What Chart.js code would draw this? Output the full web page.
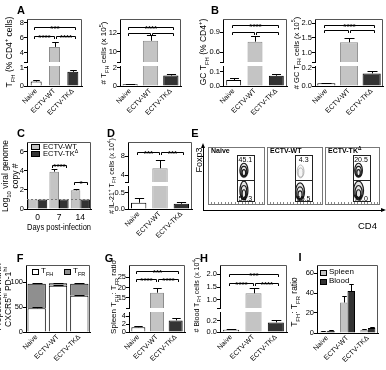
<!DOCTYPE html>
<html>
<head>
<meta charset="utf-8">
<script src="https://cdn.jsdelivr.net/npm/chart.js@4.4.0/dist/chart.umd.min.js"></script>
<style>
body { margin: 0; background: #fff; }
#fig { position: relative; width: 386px; height: 370px; overflow: hidden; background: #fff;
  font-family: "Liberation Sans", Arial, Helvetica, sans-serif; color: #000; }
#fig canvas { position: absolute; }
.lt { position: absolute; font-weight: bold; font-size: 11px; transform: translate(-50%, -50%); }
.yt { position: absolute; white-space: nowrap; text-align: center; line-height: 1.15;
  transform: translate(-50%, -50%) rotate(-90deg); }
.tx { position: absolute; white-space: nowrap; }
sub, sup { font-size: 70%; line-height: 0; }
.sw { position: absolute; border: 1px solid #000; box-sizing: border-box; }
</style>
</head>
<body>
<div id="fig"></div>
<script>
// groups and values
const groups = ["Naive", "ECTV-WT", "ECTV-TKΔ"];

// A: TFH frequency and number
const tfhPct = [0.25, 4.8, 0.78];
const tfhPctErr = [0.1, 0.6, 0.08];
const tfhNum = [0.18, 11.2, 1.15];
const tfhNumErr = [0.05, 0.6, 0.2];

// B: GC TFH frequency and number
const gcPct = [0.041, 0.755, 0.071];
const gcPctErr = [0.012, 0.085, 0.009];
const gcNum = [0.03, 1.35, 0.14];
const gcNumErr = [0.006, 0.14, 0.025];

// C: viral load
const days = ["0", "7", "14"];
const viralWT = [1.0, 3.9, 1.95];
const viralWTErr = [0, 0.25, 0.12];
const viralTK = [1.0, 1.0, 1.0];
const viralTKErr = [0, 0, 0];
const detectLimit = 1;

// D: IL-21+ TFH
const il21 = [0.19, 5.5, 0.16];
const il21Err = [0.13, 1.8, 0.05];

// E: Foxp3 gates
const gateTop = [45.1, 4.3, 20.5];
const gateBottom = [54.3, 95.5, 79.0];
const gateHi = [50, 81, 43, 86];
const gateLo = [50, 81, 7, 43];
const popsNaive = [[63, 60, 7, 12, 1], [63, 25, 7, 16, 1]];
const popsWT = [[60, 58, 6, 11, 0.3], [59, 23, 8, 15, 1]];
const popsTK = [[61, 60, 7, 12, 0.75], [61, 25, 9, 16, 1]];

// F: TFH / TFR split
const fhShare = [48, 93, 73];
const fhShareErr = [1.5, 1, 2];
const frShare = [49, 5, 24];
const frShareErr = [2, 1, 2];

// G, H: ratio and blood TFH
const spleenRatio = [1.2, 17.5, 2.9];
const spleenRatioErr = [0.3, 2.1, 0.5];
const bloodTfh = [0.04, 1.26, 0.17];
const bloodTfhErr = [0.015, 0.21, 0.05];

// I: ratio spleen vs blood
const ratioSpleen = [1.5, 30.5, 3.2];
const ratioSpleenErr = [0.4, 6.5, 0.5];
const ratioBlood = [2.2, 42, 5];
const ratioBloodErr = [0.8, 7.5, 0.8];

const fig = document.getElementById("fig");
const FONT = '"Liberation Sans", Arial, Helvetica, sans-serif';
const PADL = 24, PADT = 5, PADR = 4;
const fills = ["#ffffff", "#c4c4c4", "#333333"];
const edges = ["#000000", "#8c8c8c", "#000000"];

function makeCanvas(L, T, R, B, xh) {
  const c = document.createElement("canvas");
  c.width = R - L + PADL + PADR;
  c.height = B - T + PADT + xh;
  c.style.left = (L - PADL) + "px";
  c.style.top = (T - PADT) + "px";
  fig.appendChild(c);
  return c;
}

function html(cls, x, y, inner, size, extra) {
  const d = document.createElement("div");
  d.className = cls;
  d.style.left = x + "px";
  d.style.top = y + "px";
  if (size) d.style.fontSize = size + "px";
  if (extra) Object.assign(d.style, extra);
  d.innerHTML = inner;
  fig.appendChild(d);
  return d;
}

function swatch(x, y, w, h, color) {
  html("sw", x, y, "", 0, { width: w + "px", height: h + "px", background: color });
}

function yScale(min, max, ticks, labels, extra) {
  return Object.assign({
    type: "linear", position: "left", axis: "y", min: min, max: max,
    afterBuildTicks: s => { s.ticks = ticks.map(v => ({ value: v })); },
    ticks: { font: { family: FONT, size: 7.5 }, color: "#000", padding: 0, autoSkip: false,
      callback: (v, i) => labels[i] },
    grid: { drawOnChartArea: false, color: "#000", tickLength: 3, lineWidth: 1 },
    border: { color: "#000", width: 1 },
    afterFit: s => { s.width = PADL; }
  }, extra || {});
}

function xScale(h, rot, size, extra) {
  return Object.assign({
    type: "category", offset: true,
    grid: { display: false, drawTicks: false, tickLength: 0 },
    border: { color: "#000", width: 1 },
    ticks: { font: { family: FONT, size: size }, color: "#000", minRotation: rot, maxRotation: rot,
      padding: 1, autoSkip: false },
    afterFit: s => { s.height = h; }
  }, extra || {});
}

function yPix(chart, v) {
  const ys = Object.values(chart.scales)
    .filter(s => s.axis === "y" && s.id !== "yg")
    .sort((a, b) => a.min - b.min);
  let s = ys[0];
  for (const t of ys) if (v >= t.min) s = t;
  return s.getPixelForValue(v);
}

// frame, error bars, significance brackets, reference line
function marks(cfg) {
  return {
    id: "marks",
    afterDatasetsDraw(chart) {
      const ctx = chart.ctx, a = chart.chartArea;
      ctx.save();
      ctx.lineWidth = 1;
      ctx.strokeStyle = "#555";
      ctx.beginPath();
      ctx.moveTo(a.left, a.top + 0.5);
      ctx.lineTo(a.right - 0.5, a.top + 0.5);
      ctx.lineTo(a.right - 0.5, a.bottom);
      ctx.stroke();
      if (cfg.ref != null) {
        const y = Math.round(yPix(chart, cfg.ref)) + 0.5;
        ctx.strokeStyle = "#777";
        ctx.setLineDash([2, 2]);
        ctx.beginPath();
        ctx.moveTo(a.left, y);
        ctx.lineTo(a.right, y);
        ctx.stroke();
        ctx.setLineDash([]);
      }
      ctx.strokeStyle = "#000";
      (cfg.err || []).forEach(e => {
        const meta = chart.getDatasetMeta(e.ds);
        e.val.forEach((v, i) => {
          if (!e.err[i]) return;
          const el = meta.data[i];
          const x = Math.round(el.x) + 0.5;
          const y0 = yPix(chart, v);
          const y1 = Math.round(yPix(chart, v + e.err[i])) + 0.5;
          const w = Math.min(el.width * (cfg.cap || 0.3), 5);
          ctx.beginPath();
          ctx.moveTo(x, y0);
          ctx.lineTo(x, y1);
          ctx.moveTo(x - w, y1);
          ctx.lineTo(x + w, y1);
          ctx.stroke();
        });
      });
      ctx.fillStyle = "#000";
      ctx.font = "bold 8px " + FONT;
      ctx.textAlign = "center";
      ctx.textBaseline = "alphabetic";
      (cfg.sig || []).forEach(([da, ia, db, ib, lvl, txt]) => {
        const xa = chart.getDatasetMeta(da).data[ia].x;
        const xb = chart.getDatasetMeta(db).data[ib].x;
        const x1 = Math.round(xa + (ia === 1 && ib === 2 ? 1 : -2)) + 0.5;
        const x2 = Math.round(xb + (ia === 0 && ib === 1 ? -1 : 2)) + 0.5;
        const y = Math.round(yPix(chart, lvl)) + 0.5;
        ctx.beginPath();
        ctx.moveTo(x1, y + 2.5);
        ctx.lineTo(x1, y);
        ctx.lineTo(x2, y);
        ctx.lineTo(x2, y + 2.5);
        ctx.stroke();
        if (txt) ctx.fillText(txt, (x1 + x2) / 2, y + 3.5);
      });
      ctx.restore();
    }
  };
}

function baseOptions(scales) {
  return {
    responsive: false, animation: false, devicePixelRatio: 1,
    layout: { padding: { top: PADT, right: PADR, left: 0, bottom: 0 } },
    plugins: { legend: { display: false }, tooltip: { enabled: false } },
    scales: scales
  };
}

// bar panel with a broken y axis: low segment, gap, high segment
function brokenPanel(o) {
  const [L, T, R, B] = o.box;
  const hLow = B - T - o.hHigh - o.gap;
  const cv = makeCanvas(L, T, R, B, 44);
  const lowMax = o.low[1], highMin = o.high[0];
  const common = { backgroundColor: fills, borderColor: edges, barPercentage: o.pct,
    categoryPercentage: 1, grouped: false, borderSkipped: "start" };
  const datasets = [
    Object.assign({ yAxisID: "yl", data: o.val.map(v => Math.min(v, lowMax)),
      borderWidth: c => o.val[c.dataIndex] > lowMax ? { left: 1, right: 1, top: 0, bottom: 0 } : 1 }, common),
    Object.assign({ yAxisID: "yh", data: o.val.map(v => v > highMin ? [highMin, v] : null),
      borderWidth: 1 }, common)
  ];
  new Chart(cv, {
    type: "bar",
    data: { labels: groups, datasets: datasets },
    options: baseOptions({
      x: xScale(44, 45, 7),
      yl: yScale(o.low[0], o.low[1], o.lowTicks, o.lowLabels, { stack: "y", stackWeight: hLow }),
      yg: { type: "linear", position: "left", axis: "y", stack: "y", stackWeight: o.gap,
        ticks: { display: false }, grid: { display: false }, border: { display: false },
        afterFit: s => { s.width = PADL; } },
      yh: yScale(o.high[0], o.high[1], o.highTicks, o.highLabels, { stack: "y", stackWeight: o.hHigh })
    }),
    plugins: [marks({ err: [{ ds: 0, val: o.val, err: o.err }], sig: o.sig })]
  });
}

// ---- A ----
brokenPanel({ box: [27, 19, 82, 86], hHigh: 43, gap: 4,
  low: [0, 1.1], lowTicks: [0, 1], lowLabels: ["0", "1"],
  high: [2.8, 8.5], highTicks: [2.8, 4, 6, 8], highLabels: ["", "4", "6", "8"],
  val: tfhPct, err: tfhPctErr, pct: 0.6,
  sig: [[0, 0, 0, 2, 7.5, "***"], [0, 0, 0, 1, 6.2, "****"], [0, 1, 0, 2, 6.2, "****"]] });

brokenPanel({ box: [120, 19, 181, 86], hHigh: 43, gap: 4,
  low: [0, 2.2], lowTicks: [0, 2], lowLabels: ["0", "2"],
  high: [8.9, 13.55], highTicks: [8.9, 10, 12], highLabels: ["", "10", "12"],
  val: tfhNum, err: tfhNumErr, pct: 0.75,
  sig: [[0, 0, 0, 2, 12.65, "****"], [0, 0, 0, 1, 12.05, ""], [0, 1, 0, 2, 12.05, ""]] });

// ---- B ----
brokenPanel({ box: [223, 19, 287, 86], hHigh: 43, gap: 4,
  low: [0, 0.138], lowTicks: [0, 0.1], lowLabels: ["0.0", "0.1"],
  high: [0.45, 1.095], highTicks: [0.45, 0.6, 0.9], highLabels: ["", "0.6", "0.9"],
  val: gcPct, err: gcPctErr, pct: 0.7,
  sig: [[0, 0, 0, 2, 1.0, "****"], [0, 0, 0, 1, 0.9, ""], [0, 1, 0, 2, 0.9, ""]] });

brokenPanel({ box: [315, 19, 383, 86], hHigh: 43, gap: 4,
  low: [0, 0.222], lowTicks: [0, 0.2], lowLabels: ["0.0", "0.2"],
  high: [0.68, 2.14], highTicks: [0.68, 1.0, 1.5, 2.0], highLabels: ["", "1.0", "1.5", "2.0"],
  val: gcNum, err: gcNumErr, pct: 0.8,
  sig: [[0, 0, 0, 2, 1.93, "****"], [0, 0, 0, 1, 1.76, ""], [0, 1, 0, 2, 1.76, ""]] });

// ---- C ----
(function () {
  const cv = makeCanvas(27, 142, 91, 209, 24);
  new Chart(cv, {
    type: "bar",
    data: { labels: days, datasets: [
      { data: viralWT, backgroundColor: fills[1], borderColor: edges[1], borderWidth: 1,
        barPercentage: 1, categoryPercentage: 0.9 },
      { data: viralTK, backgroundColor: fills[2], borderColor: edges[2], borderWidth: 1,
        barPercentage: 1, categoryPercentage: 0.9 }
    ] },
    options: baseOptions({
      x: xScale(24, 0, 8.5, {
        ticks: { font: { family: FONT, size: 8.5 }, color: "#000", maxRotation: 0, padding: 4, autoSkip: false },
        title: { display: true, text: "Days post-infection", color: "#000",
          font: { family: FONT, size: 9.5 }, padding: 0 } }),
      y: yScale(0, 7, [0, 2, 4, 6], ["0", "2", "4", "6"])
    }),
    plugins: [marks({ ref: detectLimit,
      err: [{ ds: 0, val: viralWT, err: viralWTErr }, { ds: 1, val: viralTK, err: viralTKErr }],
      sig: [[0, 1, 1, 1, 4.6, "****"], [0, 2, 1, 2, 2.8, "*"]] })]
  });
})();

// ---- D ----
brokenPanel({ box: [128, 142, 192, 209], hHigh: 40, gap: 4,
  low: [0, 0.7], lowTicks: [0, 0.5], lowLabels: ["0.0", "0.5"],
  high: [2.6, 11], highTicks: [2.6, 4, 8], highLabels: ["", "4", "8"],
  val: il21, err: il21Err, pct: 0.72,
  sig: [[0, 0, 0, 1, 8.8, "***"], [0, 1, 0, 2, 8.8, "***"]] });

// ---- E ----
(function () {
  const cv = document.createElement("canvas");
  cv.width = 191; cv.height = 72;
  cv.style.left = "195px"; cv.style.top = "140px";
  fig.appendChild(cv);
  const hidden = { ticks: { display: false }, grid: { display: false }, border: { color: "#000", width: 1 } };
  new Chart(cv, {
    type: "scatter",
    data: { datasets: [{ data: [] }] },
    options: {
      responsive: false, animation: false, devicePixelRatio: 1,
      layout: { padding: { top: 6, right: 3, left: 0, bottom: 0 } },
      plugins: { legend: { display: false }, tooltip: { enabled: false } },
      scales: {
        x: Object.assign({ min: 0, max: 1, afterFit: s => { s.height = 2; } }, hidden),
        y: Object.assign({ min: 0, max: 1, afterFit: s => { s.width = 8; } }, hidden)
      }
    },
    plugins: [{
      id: "arrows",
      afterDraw(chart) {
        const ctx = chart.ctx, a = chart.chartArea;
        ctx.save();
        ctx.fillStyle = "#000";
        ctx.beginPath();
        ctx.moveTo(a.left, a.top - 3); ctx.lineTo(a.left - 2, a.top + 2); ctx.lineTo(a.left + 2, a.top + 2);
        ctx.fill();
        ctx.beginPath();
        ctx.moveTo(a.right + 3, a.bottom); ctx.lineTo(a.right - 2, a.bottom - 2); ctx.lineTo(a.right - 2, a.bottom + 2);
        ctx.fill();
        ctx.restore();
      }
    }]
  });

  const panels = [
    [208, 57, popsNaive], [267, 56, popsWT], [325, 55, popsTK]
  ];
  panels.forEach(([left, w, pops], k) => {
    const c = document.createElement("canvas");
    c.width = w; c.height = 58;
    c.style.left = left + "px"; c.style.top = "147px";
    fig.appendChild(c);
    new Chart(c, {
      type: "scatter",
      data: { datasets: [{ data: [] }] },
      options: {
        responsive: false, animation: false, devicePixelRatio: 1,
        layout: { padding: 0 },
        plugins: { legend: { display: false }, tooltip: { enabled: false } },
        scales: {
          x: { display: false, min: 0, max: 100 },
          y: { display: false, min: 0, max: 100 }
        }
      },
      plugins: [{
        id: "flow",
        afterDraw(chart) {
          const ctx = chart.ctx, a = chart.chartArea;
          const sx = chart.scales.x, sy = chart.scales.y;
          ctx.save();
          ctx.strokeStyle = "#777";
          ctx.lineWidth = 1;
          ctx.strokeRect(a.left + 0.5, a.top + 0.5, a.right - a.left - 1, a.bottom - a.top - 1);
          // small ticks along the bottom
          ctx.strokeStyle = "#888";
          for (let t = 5; t < 100; t += 6) {
            const x = Math.round(sx.getPixelForValue(t)) + 0.5;
            ctx.beginPath(); ctx.moveTo(x, a.bottom - 1); ctx.lineTo(x, a.bottom - 3); ctx.stroke();
          }
          // populations as nested contours
          pops.forEach(([cx, cy, rx, ry, s]) => {
            const px = sx.getPixelForValue(cx), py = sy.getPixelForValue(cy);
            const wx = Math.abs(sx.getPixelForValue(cx + rx) - px);
            const wy = Math.abs(sy.getPixelForValue(cy + ry) - py);
            ctx.fillStyle = "rgba(0,0,0," + (0.1 * s) + ")";
            ctx.beginPath(); ctx.ellipse(px, py + 1, wx * 1.2, wy * 1.05, 0, 0, Math.PI * 2); ctx.fill();
            const rings = s > 0.5 ? 3 : 2;
            ctx.strokeStyle = s > 0.5 ? "#1a1a1a" : "#aaa";
            ctx.lineWidth = s > 0.5 ? 1.2 : 0.8;
            for (let r = 0; r < rings; r++) {
              const f = 1 - r * 0.28;
              ctx.beginPath();
              ctx.ellipse(px, py + r * wy * 0.18, wx * f, wy * f, 0, 0, Math.PI * 2);
              ctx.stroke();
            }
          });
          // gates
          ctx.strokeStyle = "#222";
          ctx.lineWidth = 1;
          [gateHi, gateLo].forEach(([x0, x1, y0, y1]) => {
            const l = Math.round(sx.getPixelForValue(x0)) + 0.5, r = Math.round(sx.getPixelForValue(x1)) + 0.5;
            const t = Math.round(sy.getPixelForValue(y1)) + 0.5, b = Math.round(sy.getPixelForValue(y0)) + 0.5;
            ctx.strokeRect(l, t, r - l, b - t);
          });
          ctx.fillStyle = "#000";
          ctx.font = "7px " + FONT;
          ctx.textAlign = "center";
          ctx.textBaseline = "top";
          const gx = sx.getPixelForValue((gateHi[0] + gateHi[1]) / 2);
          ctx.fillText(gateTop[k].toFixed(1), gx, sy.getPixelForValue(gateHi[3]) + 1.5);
          ctx.textBaseline = "bottom";
          ctx.fillText(gateBottom[k].toFixed(1), gx, sy.getPixelForValue(gateLo[2]) + 2);
          ctx.restore();
        }
      }]
    });
  });
  html("tx", 211, 147, "Naive", 7, { fontWeight: "bold" });
  html("tx", 270, 147, "ECTV-WT", 7, { fontWeight: "bold" });
  html("tx", 328, 147, "ECTV-TK<sup>Δ</sup>", 7, { fontWeight: "bold" });
  html("yt", 199, 160, "Foxp3", 9);
  html("tx", 358, 220, "CD4", 9.5);
})();

// ---- F ----
(function () {
  const cv = makeCanvas(26, 265, 90, 332, 44);
  const totals = fhShare.map((v, i) => v + frShare[i]);
  new Chart(cv, {
    type: "bar",
    data: { labels: groups, datasets: [
      { data: fhShare, backgroundColor: "#ffffff", borderColor: "#000", borderWidth: 1,
        barPercentage: 0.86, categoryPercentage: 1 },
      { data: frShare, backgroundColor: "#8f8f8f", borderColor: "#000", borderWidth: 1,
        barPercentage: 0.86, categoryPercentage: 1 }
    ] },
    options: baseOptions({
      x: xScale(44, 45, 7, { stacked: true }),
      y: yScale(0, 135, [0, 50, 100], ["0", "50", "100"], { stacked: true })
    }),
    plugins: [marks({ cap: 0.35,
      err: [{ ds: 0, val: fhShare, err: fhShareErr }, { ds: 1, val: totals, err: frShareErr }] })]
  });
  swatch(32, 269, 7, 6, "#ffffff");
  html("tx", 41, 266, "T<sub>FH</sub>", 8);
  swatch(64, 269, 7, 6, "#8f8f8f");
  html("tx", 73, 266, "T<sub>FR</sub>", 8);
})();

// ---- G ----
brokenPanel({ box: [129, 265, 185, 332], hHigh: 43, gap: 4,
  low: [0, 5], lowTicks: [0, 2, 4], lowLabels: ["0", "2", "4"],
  high: [10, 31.1], highTicks: [10, 15, 20, 25], highLabels: ["", "15", "20", "25"],
  val: spleenRatio, err: spleenRatioErr, pct: 0.75,
  sig: [[0, 0, 0, 2, 28, "***"], [0, 0, 0, 1, 24, "****"], [0, 1, 0, 2, 24, "****"]] });

// ---- H ----
brokenPanel({ box: [220, 265, 287, 332], hHigh: 43, gap: 4,
  low: [0, 0.354], lowTicks: [0, 0.2], lowLabels: ["0.0", "0.2"],
  high: [0.69, 2.35], highTicks: [0.69, 1.0, 1.5, 2.0], highLabels: ["", "1.0", "1.5", "2.0"],
  val: bloodTfh, err: bloodTfhErr, pct: 0.72,
  sig: [[0, 0, 0, 2, 2.0, "***"], [0, 0, 0, 1, 1.64, "****"], [0, 1, 0, 2, 1.64, "****"]] });

// ---- I ----
(function () {
  const cv = makeCanvas(317, 265, 378, 333, 44);
  new Chart(cv, {
    type: "bar",
    data: { labels: groups, datasets: [
      { data: ratioSpleen, backgroundColor: fills[1], borderColor: edges[1], borderWidth: 1,
        barPercentage: 1, categoryPercentage: 0.74 },
      { data: ratioBlood, backgroundColor: fills[2], borderColor: edges[2], borderWidth: 1,
        barPercentage: 1, categoryPercentage: 0.74 }
    ] },
    options: baseOptions({
      x: xScale(44, 45, 7),
      y: yScale(0, 68, [0, 20, 40, 60], ["0", "20", "40", "60"])
    }),
    plugins: [marks({ err: [{ ds: 0, val: ratioSpleen, err: ratioSpleenErr },
      { ds: 1, val: ratioBlood, err: ratioBloodErr }] })]
  });
  swatch(320, 270, 7, 6, fills[1]);
  html("tx", 329, 267, "Spleen", 8);
  swatch(320, 279, 7, 6, fills[2]);
  html("tx", 329, 276, "Blood", 8);
})();

// C legend
swatch(31, 144, 9, 6, fills[1]);
html("tx", 43, 142, "ECTV-WT", 7.5);
swatch(31, 151, 9, 6, fills[2]);
html("tx", 43, 149, "ECTV-TK<sup>Δ</sup>", 7.5);

// axis titles
html("yt", 10, 52, "T<sub>FH</sub> (% CD4<sup>+</sup> cells)", 8.5);
html("yt", 104, 53, "# T<sub>FH</sub> cells (x 10<sup>5</sup>)", 8);
html("yt", 204, 52, "GC T<sub>FH</sub> (% CD4<sup>+</sup>)", 8.5);
html("yt", 297, 53, "# GC T<sub>FH</sub> cells (x 10<sup>5</sup>)", 7.5);
html("yt", 11, 176, "Log<sub>10</sub> viral genome<br>copy #", 8.5);
html("yt", 112, 176, "# IL-21<sup>+</sup> T<sub>FH</sub> cells (x 10<sup>4</sup>)", 7);
html("yt", 3.5, 297, "Proportions within<br>CXCR5<sup>hi</sup> PD-1<sup>hi</sup>", 8.5);
html("yt", 113.5, 297, "Spleen T<sub>FH</sub>: T<sub>FR</sub> ratio", 8);
html("yt", 197, 295, "# Blood T<sub>FH</sub> cells (x 10<sup>4</sup>)", 7);
html("yt", 295, 302, "T<sub>FH</sub>: T<sub>FR</sub> ratio", 8.5);

// panel letters
[["A", 21, 10], ["B", 215, 10], ["C", 21, 133], ["D", 111, 133], ["E", 195, 133],
 ["F", 20, 258], ["G", 109, 258], ["H", 204, 258], ["I", 300, 257]]
  .forEach(([t, x, y]) => html("lt", x, y, t));
</script>
</body>
</html>
